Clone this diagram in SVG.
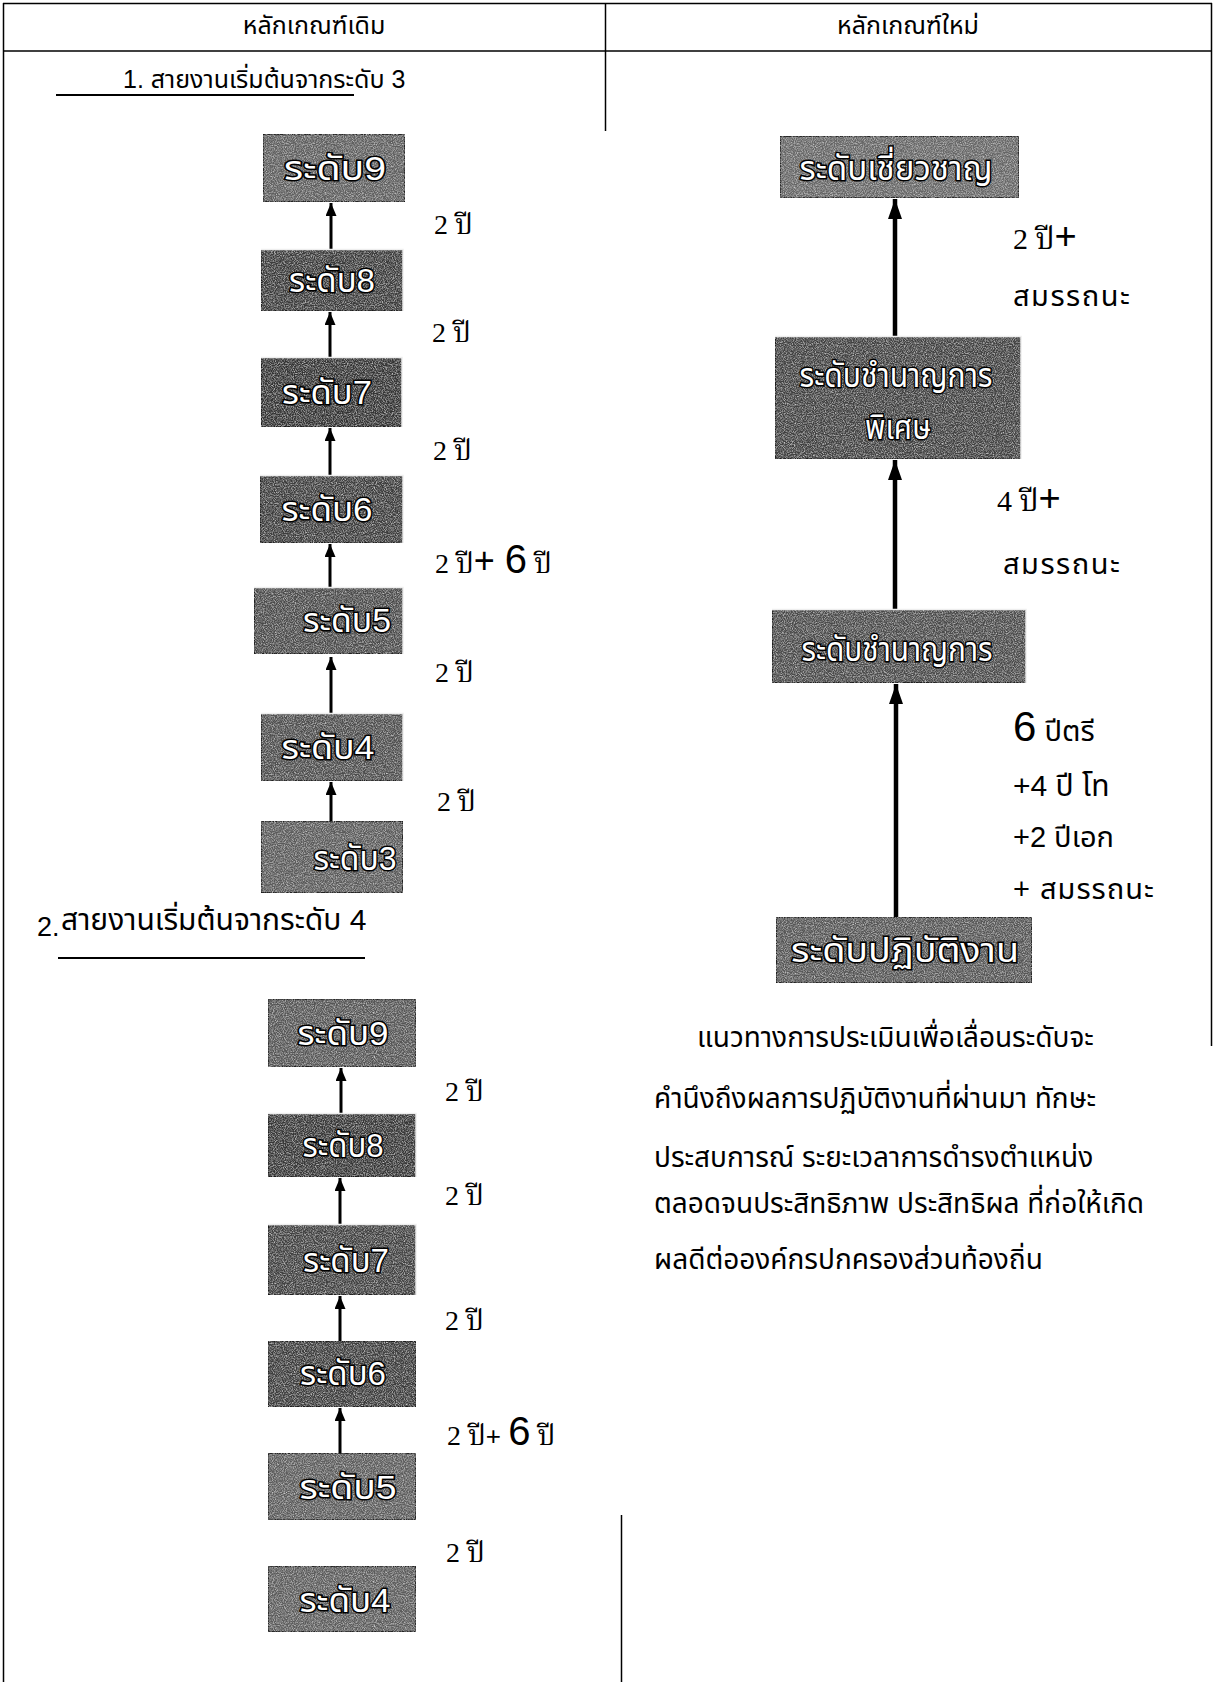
<svg xmlns="http://www.w3.org/2000/svg" width="1214" height="1682" viewBox="0 0 1214 1682">
<style>
.tbl{stroke:#000;stroke-width:1.5;fill:none}
.hd{font-family:"Liberation Sans","Noto Sans Thai",sans-serif;font-size:25px;fill:#000;text-anchor:middle}
.sec{font-family:"Liberation Sans","Noto Sans Thai",sans-serif;font-size:25px;fill:#000}
.lab{font-family:"Liberation Serif","Noto Serif Thai","Noto Sans Thai",serif;font-size:28px;fill:#000}
.lab2{font-family:"Liberation Sans","Noto Sans Thai",sans-serif;font-size:29px;fill:#000}
.big{font-family:"Liberation Sans","Noto Sans Thai",sans-serif;font-size:40px;fill:#000}
.para{font-family:"Liberation Sans","Noto Sans Thai",sans-serif;font-size:28px;fill:#000}
.box{stroke:#111;stroke-width:1.5;filter:url(#grain)}
.edge{stroke:#eee;stroke-width:1.5;fill:none}
.bt{font-family:"Liberation Sans","Noto Sans Thai",sans-serif;font-size:33px;fill:#fff;stroke:#000;stroke-width:3;paint-order:stroke;text-anchor:middle}
.arr{stroke:#000;stroke-width:3;fill:none}
.arrR{stroke:#000;stroke-width:4.5;fill:none}
.ul{stroke:#000;stroke-width:2}
</style>
<defs>
<filter id="grain" x="0" y="0" width="1" height="1" color-interpolation-filters="sRGB">
<feTurbulence type="fractalNoise" baseFrequency="0.9" numOctaves="2" seed="7" result="noise"/>
<feColorMatrix in="noise" type="matrix" values="0 0 0 0 0  0 0 0 0 0  0 0 0 0 0  2 0 0 0 -0.75" result="spk"/>
<feFlood flood-color="#c8c8c8" result="light"/>
<feComposite in="light" in2="spk" operator="in" result="lspk"/>
<feMerge result="m"><feMergeNode in="SourceGraphic"/><feMergeNode in="lspk"/></feMerge>
<feComposite in="m" in2="SourceGraphic" operator="in"/>
</filter>
<marker id="ah" markerUnits="userSpaceOnUse" markerWidth="13" markerHeight="11" refX="13" refY="5.5" orient="auto" viewBox="0 0 13 11">
<path d="M0,0 L13,5.5 L0,11 Z" fill="#000"/>
</marker>
<marker id="ahR" markerUnits="userSpaceOnUse" markerWidth="20" markerHeight="14" refX="20" refY="7" orient="auto" viewBox="0 0 20 14">
<path d="M0,0 L20,7 L0,14 Z" fill="#000"/>
</marker>
</defs>
<rect x="0" y="0" width="1214" height="1682" fill="#fff"/>

<g id="table">
<line class="tbl" x1="3" y1="3.5" x2="1212" y2="3.5"/>
<line class="tbl" x1="3" y1="51" x2="1212" y2="51"/>
<line class="tbl" x1="3.5" y1="3" x2="3.5" y2="1682"/>
<line class="tbl" x1="605.5" y1="3" x2="605.5" y2="131"/>
<line class="tbl" x1="1211.5" y1="3" x2="1211.5" y2="1046"/>
<line class="tbl" x1="621.5" y1="1515" x2="621.5" y2="1682"/>
<text class="hd" x="314" y="34">หลักเกณฑ์เดิม</text>
<text class="hd" x="908" y="34">หลักเกณฑ์ใหม่</text>
</g>

<g id="section1-title">
<text class="sec" x="123" y="88">1. สายงานเริ่มต้นจากระดับ 3</text>
<line class="ul" x1="56" y1="95" x2="354" y2="95"/>
</g>

<g id="connectors">
<line class="arr" x1="331" y1="249" x2="331" y2="203" marker-end="url(#ah)"/>
<line class="arr" x1="330" y1="357" x2="330" y2="312" marker-end="url(#ah)"/>
<line class="arr" x1="330" y1="475" x2="330" y2="428" marker-end="url(#ah)"/>
<line class="arr" x1="330" y1="587" x2="330" y2="544" marker-end="url(#ah)"/>
<line class="arr" x1="331" y1="713" x2="331" y2="657" marker-end="url(#ah)"/>
<line class="arr" x1="331" y1="821" x2="331" y2="782" marker-end="url(#ah)"/>

<line class="arr" x1="341" y1="1113" x2="341" y2="1068" marker-end="url(#ah)"/>
<line class="arr" x1="340" y1="1224" x2="340" y2="1178" marker-end="url(#ah)"/>
<line class="arr" x1="340" y1="1341" x2="340" y2="1296" marker-end="url(#ah)"/>
<line class="arr" x1="340" y1="1453" x2="340" y2="1408" marker-end="url(#ah)"/>

<line class="arrR" x1="895" y1="336" x2="895" y2="199" marker-end="url(#ahR)"/>
<line class="arrR" x1="895" y1="609" x2="895" y2="460" marker-end="url(#ahR)"/>
<line class="arrR" x1="896" y1="917" x2="896" y2="684" marker-end="url(#ahR)"/>
</g>

<g id="n-l9"><rect class="box" x="263" y="134" width="142" height="68" fill="#5e5e5e"/><text class="bt" x="335" y="180" textLength="102" lengthAdjust="spacingAndGlyphs">ระดับ9</text></g>
<g id="n-l8"><rect class="box" x="261" y="249" width="142" height="62" fill="#3a3a3a"/><path class="edge" d="M261,249.5 H403 V311"/><text class="bt" x="332" y="292" textLength="86" lengthAdjust="spacingAndGlyphs">ระดับ8</text></g>
<g id="n-l7"><rect class="box" x="261" y="357" width="141" height="70" fill="#333"/><path class="edge" d="M261,357.5 H402 V427"/><text class="bt" x="327" y="404" textLength="90" lengthAdjust="spacingAndGlyphs">ระดับ7</text></g>
<g id="n-l6"><rect class="box" x="260" y="475" width="143" height="68" fill="#3c3c3c"/><path class="edge" d="M260,475.5 H403 V543"/><text class="bt" x="327" y="521" textLength="91" lengthAdjust="spacingAndGlyphs">ระดับ6</text></g>
<g id="n-l5"><rect class="box" x="254" y="587" width="149" height="67" fill="#4a4a4a"/><path class="edge" d="M254,587.5 H403 V654"/><text class="bt" x="347" y="632" textLength="88" lengthAdjust="spacingAndGlyphs">ระดับ5</text></g>
<g id="n-l4"><rect class="box" x="261" y="713" width="142" height="68" fill="#4d4d4d"/><path class="edge" d="M261,713.5 H403 V781"/><text class="bt" x="328" y="759" textLength="93" lengthAdjust="spacingAndGlyphs">ระดับ4</text></g>
<g id="n-l3"><rect class="box" x="261" y="821" width="142" height="72" fill="#5a5a5a"/><text class="bt" x="355" y="870" textLength="83" lengthAdjust="spacingAndGlyphs">ระดับ3</text></g>

<g id="labels1">
<text class="lab" x="434" y="234">2 ปี</text>
<text class="lab" x="432" y="342">2 ปี</text>
<text class="lab" x="433" y="460">2 ปี</text>
<text class="lab" x="435" y="573">2 ปี<tspan class="lab2" style="font-size:36px">+ </tspan><tspan class="big">6</tspan> ปี</text>
<text class="lab" x="435" y="682">2 ปี</text>
<text class="lab" x="437" y="811">2 ปี</text>
</g>

<g id="section2-title">
<text class="sec" x="37" y="936" style="font-size:27px">2.</text>
<text class="sec" x="61" y="930" style="font-size:30px">สายงานเริ่มต้นจากระดับ 4</text>
<line class="ul" x1="58" y1="958" x2="365" y2="958"/>
</g>

<g id="n-b9"><rect class="box" x="268" y="999" width="148" height="68" fill="#555"/><text class="bt" x="343" y="1045" textLength="91" lengthAdjust="spacingAndGlyphs">ระดับ9</text></g>
<g id="n-b8"><rect class="box" x="268" y="1113" width="148" height="64" fill="#363636"/><path class="edge" d="M268,1113.5 H416 V1177"/><text class="bt" x="343" y="1157" textLength="81" lengthAdjust="spacingAndGlyphs">ระดับ8</text></g>
<g id="n-b7"><rect class="box" x="268" y="1224" width="148" height="71" fill="#404040"/><path class="edge" d="M268,1224.5 H416 V1295"/><text class="bt" x="346" y="1272" textLength="86" lengthAdjust="spacingAndGlyphs">ระดับ7</text></g>
<g id="n-b6"><rect class="box" x="268" y="1341" width="148" height="66" fill="#3c3c3c"/><text class="bt" x="343" y="1385" textLength="86" lengthAdjust="spacingAndGlyphs">ระดับ6</text></g>
<g id="n-b5"><rect class="box" x="268" y="1453" width="148" height="67" fill="#5c5c5c"/><text class="bt" x="348" y="1499" textLength="97" lengthAdjust="spacingAndGlyphs">ระดับ5</text></g>
<g id="n-b4"><rect class="box" x="268" y="1566" width="148" height="66" fill="#5c5c5c"/><text class="bt" x="345" y="1612" textLength="91" lengthAdjust="spacingAndGlyphs">ระดับ4</text></g>

<g id="labels2">
<text class="lab" x="445" y="1101">2 ปี</text>
<text class="lab" x="445" y="1205">2 ปี</text>
<text class="lab" x="445" y="1330">2 ปี</text>
<text class="lab" x="447" y="1445">2 ปี<tspan class="lab2" style="font-size:26px">+ </tspan><tspan class="big">6</tspan> ปี</text>
<text class="lab" x="446" y="1562">2 ปี</text>
</g>

<g id="n-expert"><rect class="box" x="780" y="136" width="239" height="62" fill="#666"/><text class="bt" x="896" y="180" textLength="193" lengthAdjust="spacingAndGlyphs">ระดับเชี่ยวชาญ</text></g>
<g id="n-senior"><rect class="box" x="775" y="336" width="246" height="123" fill="#404040"/><path class="edge" d="M775,336.5 H1021 V459"/><text class="bt" x="896" y="387" textLength="193" lengthAdjust="spacingAndGlyphs">ระดับชำนาญการ</text><text class="bt" x="898" y="439" textLength="66" lengthAdjust="spacingAndGlyphs">พิเศษ</text></g>
<g id="n-pro"><rect class="box" x="772" y="609" width="254" height="74" fill="#4a4a4a"/><path class="edge" d="M772,609.5 H1026 V683"/><text class="bt" x="897" y="661" textLength="191" lengthAdjust="spacingAndGlyphs">ระดับชำนาญการ</text></g>
<g id="n-ops"><rect class="box" x="776" y="917" width="256" height="66" fill="#555"/><text class="bt" x="905" y="962" textLength="228" lengthAdjust="spacingAndGlyphs">ระดับปฏิบัติงาน</text></g>

<g id="labels-right">
<text class="lab" x="1013" y="249" style="font-size:30px">2 ปี<tspan class="lab2" style="font-size:38px">+</tspan></text>
<text class="lab2" x="1013" y="306" letter-spacing="1.5">สมรรถนะ</text>
<text class="lab" x="997" y="511" style="font-size:30px">4 ปี<tspan class="lab2" style="font-size:38px">+</tspan></text>
<text class="lab2" x="1003" y="574" letter-spacing="1.5">สมรรถนะ</text>
<text class="lab2" x="1013" y="741"><tspan class="big" style="font-size:42px">6</tspan> ปีตรี</text>
<text class="lab2" x="1013" y="796" style="font-size:30px">+4 ปี โท</text>
<text class="lab2" x="1013" y="847">+2 ปีเอก</text>
<text class="lab2" x="1013" y="899" letter-spacing="1">+ สมรรถนะ</text>
</g>

<g id="paragraph">
<text class="para" x="697" y="1047">แนวทางการประเมินเพื่อเลื่อนระดับจะ</text>
<text class="para" x="654" y="1108">คำนึงถึงผลการปฏิบัติงานที่ผ่านมา ทักษะ</text>
<text class="para" x="654" y="1167">ประสบการณ์ ระยะเวลาการดำรงตำแหน่ง</text>
<text class="para" x="654" y="1213">ตลอดจนประสิทธิภาพ ประสิทธิผล ที่ก่อให้เกิด</text>
<text class="para" x="654" y="1269">ผลดีต่อองค์กรปกครองส่วนท้องถิ่น</text>
</g>
</svg>
